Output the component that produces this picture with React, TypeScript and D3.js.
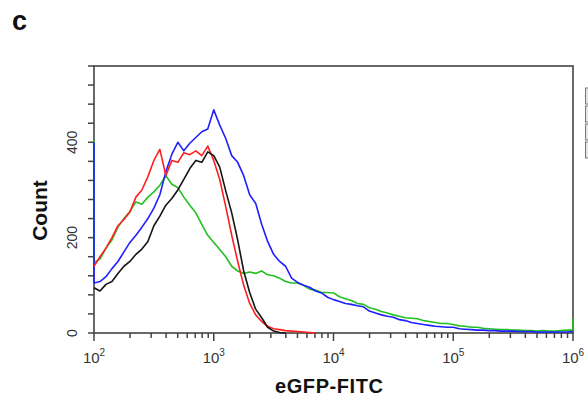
import React from "react";
import * as d3 from "d3";

// histogram counts per bin, bins are 0.05 decade wide starting at 10^2
const redCounts = [
  140, 160, 178, 200, 225, 238, 254, 285, 300, 328,
  362, 385, 330, 362, 358, 378, 374, 382, 372, 392,
  362, 322, 265, 205, 150, 100, 62, 38, 24, 14,
  9, 7, 5, 4, 3, 2, 1, 0,
];
const blackCounts = [
  95, 88, 102, 108, 125, 140, 150, 165, 176, 192,
  225, 245, 268, 282, 300, 322, 345, 362, 358, 380,
  372, 348, 298, 252, 195, 130, 85, 50, 32, 12,
  4, 1, 0,
];
const blueCounts = [
  105, 108, 118, 135, 150, 170, 190, 205, 222, 240,
  262, 290, 338, 375, 400, 382, 398, 410, 422, 428,
  468, 436, 408, 372, 358, 330, 290, 272, 228, 192,
  165, 150, 140, 115, 106, 100, 96, 88, 84, 75,
  70, 66, 62, 60, 57, 55, 46, 42, 38, 35,
  33, 28, 26, 22, 20, 18, 16, 14, 13, 12,
  12, 9, 8, 7, 6, 6, 5, 5, 4, 4,
  4, 3, 3, 3, 2, 2, 2, 2, 2, 2, 3,
];
const greenCounts = [
  148, 155, 178, 195, 222, 240, 255, 275, 270, 285,
  296, 310, 330, 312, 305, 285, 268, 252, 228, 205,
  190, 175, 160, 140, 130, 125, 128, 125, 130, 122,
  120, 115, 108, 105, 105, 100, 92, 90, 85, 85,
  84, 76, 72, 68, 62, 60, 53, 50, 45, 42,
  38, 35, 32, 31, 30, 26, 24, 22, 20, 20,
  18, 15, 14, 12, 12, 10, 9, 8, 7, 7,
  6, 6, 5, 5, 4, 5, 4, 4, 5, 6, 6,
];
// events piled up on the axis limits
const blueLowEdge = 400;
const greenLowEdge = 405;
const greenHighEdge = 30;

const xDecades = [2, 3, 4, 5, 6];
const yTicks = [0, 40, 80, 120, 160, 200, 240, 280, 320, 360, 400, 440, 480, 520, 560];
const yLabels = [0, 200, 400];

const binLog = (i: number) => 2 + i * 0.05;

const App: React.FC = () => {
  const width = 588;
  const height = 399;
  const left = 94, right = 573, top = 66, bottom = 333;

  const x = d3.scaleLog().domain([1e2, 1e6]).range([left, right]);
  const y = d3.scaleLinear().domain([0, 560]).range([bottom, top]);

  const line = d3
    .line<[number, number]>()
    .x((d) => x(Math.pow(10, d[0])))
    .y((d) => y(d[1]));

  const build = (counts: number[], lowEdge?: number, highEdge?: number) => {
    const pts: [number, number][] = counts.map((c, i) => [binLog(i), c]);
    if (lowEdge !== undefined) pts.unshift([binLog(0), lowEdge]);
    if (highEdge !== undefined) pts.push([binLog(counts.length - 1), highEdge]);
    return line(pts) || "";
  };

  const series = [
    { color: "#22c022", d: build(greenCounts, greenLowEdge, greenHighEdge) },
    { color: "#1f1fff", d: build(blueCounts, blueLowEdge) },
    { color: "#ff1f1f", d: build(redCounts) },
    { color: "#151515", d: build(blackCounts) },
  ];

  const minorTicks = x.ticks().filter((t) => !xDecades.includes(Math.round(Math.log10(t) * 1000) / 1000));

  const font = "Liberation Sans, Arial, sans-serif";

  return (
    <svg
      width={width}
      height={height}
      style={{ position: "absolute", left: 0, top: 0, background: "#fff" }}
      fontFamily={font}
    >
      <rect width={width} height={height} fill="#fff" />
      <text x={12} y={30} fontSize={27} fontWeight="bold" fill="#111">c</text>

      {/* frame */}
      <rect x={left} y={top} width={right - left} height={bottom - top} fill="none" stroke="#444" strokeWidth={1.6} />

      {/* y axis */}
      {yTicks.map((t) => (
        <line key={t} x1={left - 6} x2={left} y1={y(t)} y2={y(t)} stroke="#444" strokeWidth={1.5} />
      ))}
      {yLabels.map((t) => (
        <text
          key={t}
          transform={`translate(77,${y(t)}) rotate(-90)`}
          textAnchor="middle"
          fontSize={14}
          fill="#333"
        >
          {t}
        </text>
      ))}
      <text
        transform={`translate(47,${(top + bottom) / 2 + 11}) rotate(-90)`}
        textAnchor="middle"
        fontSize={21}
        fontWeight="bold"
        fill="#111"
      >
        Count
      </text>

      {/* x axis */}
      {minorTicks.map((t, i) => (
        <line key={i} x1={x(t)} x2={x(t)} y1={bottom} y2={bottom + 5} stroke="#444" strokeWidth={1.5} />
      ))}
      {xDecades.map((p) => (
        <g key={p}>
          <line x1={x(Math.pow(10, p))} x2={x(Math.pow(10, p))} y1={bottom} y2={bottom + 8} stroke="#444" strokeWidth={1.5} />
          <text x={x(Math.pow(10, p))} y={363} textAnchor="middle" fill="#333" fontSize={15}>
            10<tspan fontSize={10} dy={-7}>{p}</tspan>
          </text>
        </g>
      ))}
      <text x={329} y={393} textAnchor="middle" fontSize={20} fontWeight="bold" fill="#111" textLength={108}>
        eGFP-FITC
      </text>

      {/* histograms drawn over the frame so the edge pile-ups show */}
      {series.map((s, i) => (
        <path key={i} d={s.d} fill="none" stroke={s.color} strokeWidth={1.6} strokeLinejoin="round" />
      ))}

      {/* legend swatches cut off at the right edge */}
      {[88, 106, 124, 142].map((yy) => (
        <rect key={yy} x={585.5} y={yy} width={10} height={16} fill="#e6e6e6" stroke="#777" strokeWidth={1} />
      ))}
    </svg>
  );
};

export default App;
